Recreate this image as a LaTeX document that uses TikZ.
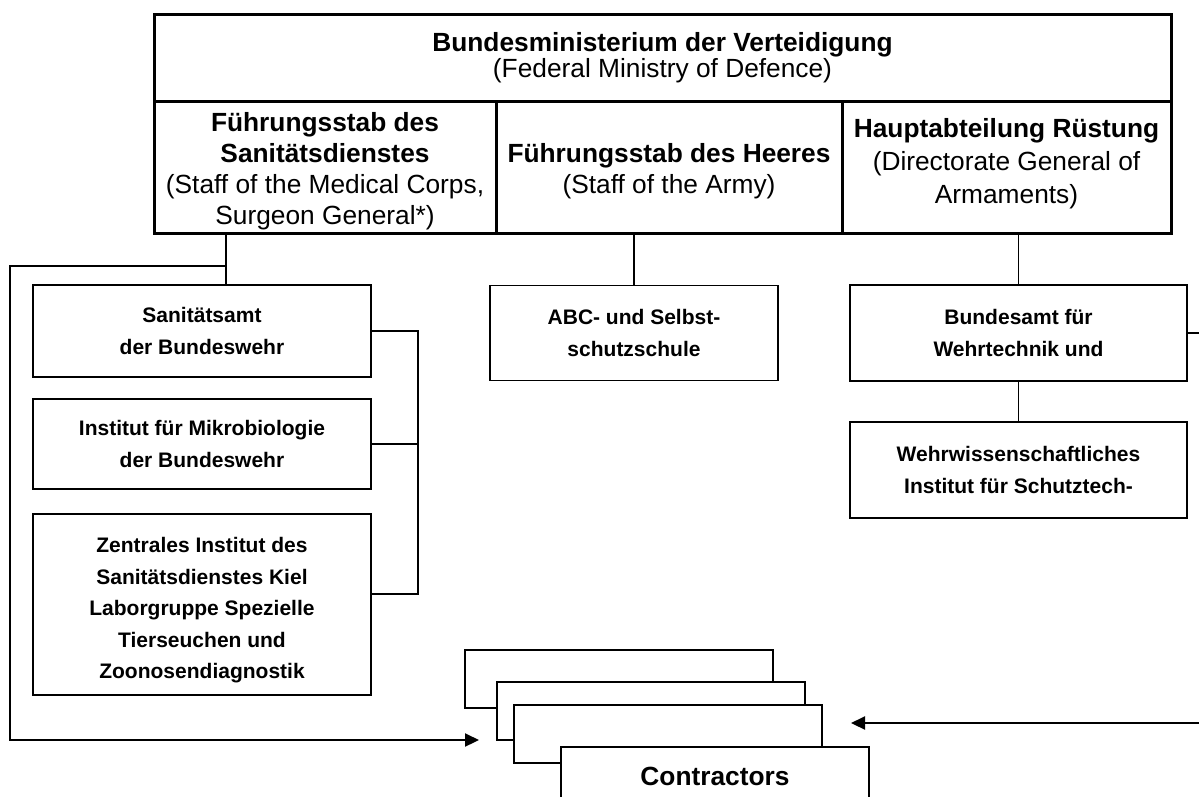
\documentclass[tikz,border=0pt]{standalone}
\usepackage{fontspec}
\setmainfont{Liberation Sans}
\usepackage{tikz}
\usetikzlibrary{arrows.meta, positioning}

\tikzset{
  head/.style={draw, line width=3pt, inner sep=0pt, align=center,
    font=\fontsize{26.3}{31}\selectfont},
  headtxt/.style={inner sep=0pt, align=center,
    font=\fontsize{26.3}{31}\selectfont},
  unit/.style={draw, line width=1.6pt, inner sep=0pt, align=center,
    font=\fontsize{21}{31.5}\selectfont\bfseries},
  ctr/.style={draw, fill=white, line width=1.5pt, inner sep=0pt,
    minimum width=308pt, minimum height=58pt,
    font=\fontsize{26.3}{31}\selectfont\bfseries},
  link/.style={line width=1.8pt},
  feed/.style={line width=2.2pt, -{Triangle[length=14pt,width=13pt]}},
}

\begin{document}
\begin{tikzpicture}[x=1pt,y=-1pt]
  \useasboundingbox (0,0) rectangle (1199,796);

  % ministry and its staffs
  \node[head, minimum width=1017pt, minimum height=87pt,
    font=\fontsize{26.3}{26}\selectfont] (bmvg) at (662.5,57.5)
    {\textbf{Bundesministerium der Verteidigung}\\(Federal Ministry of Defence)};
  \node[head, minimum width=342pt, minimum height=132pt] (fsan) at (325,167) {};
  \node[head, minimum width=346pt, minimum height=132pt] (fheer) at (669,167) {};
  \node[head, minimum width=329pt, minimum height=132pt] (hrue) at (1006.5,167) {};
  \node[headtxt] (fsan-t) at (325,171)
    {\textbf{Führungsstab des}\\\textbf{Sanitätsdienstes}\\(Staff of the Medical Corps,\\Surgeon General*)};
  \node[headtxt] (fheer-t) at (669,171)
    {\textbf{Führungsstab des Heeres}\\(Staff of the Army)};
  \node[headtxt, font=\fontsize{26.3}{33}\selectfont] (hrue-t) at (1006.5,164)
    {\textbf{Hauptabteilung Rüstung}\\(Directorate General of\\Armaments)};

  % units
  \node[unit, minimum width=338pt, minimum height=92pt] (sanamt) at (202,331)
    {Sanitätsamt\\der Bundeswehr};
  \node[unit, minimum width=338pt, minimum height=90pt] (mikro) at (202,444)
    {Institut für Mikrobiologie\\der Bundeswehr};
  \node[unit, minimum width=338pt, minimum height=181pt] (zinst) at (202,604.5) {};
  \node[unit, draw=none] (zinst-t) at (202,610.5)
    {Zentrales Institut des\\Sanitätsdienstes Kiel\\Laborgruppe Spezielle\\Tierseuchen und\\Zoonosendiagnostik};
  \node[unit, minimum width=288pt, minimum height=95pt] (abc) at (634,333)
    {ABC- und Selbst-\\schutzschule};
  \node[unit, minimum width=337pt, minimum height=96pt] (bwb) at (1018.5,333)
    {Bundesamt für\\Wehrtechnik und};
  \node[unit, minimum width=337pt, minimum height=96pt] (wis) at (1018.5,470)
    {Wehrwissenschaftliches\\Institut für Schutztech-};

  % contractors stack
  \foreach \i/\cx/\cy in {1/619/679, 2/651/711, 3/668/734}
    \node[ctr] (c\i) at (\cx,\cy) {};
  \node[ctr] (c4) at (715,776) {Contractors};

  \coordinate (jl) at (226,266);
  \coordinate (lc) at (10,740);
  \coordinate (ain) at (479,740);
  \coordinate (zk) at (418,594);
  \coordinate (rin) at (1199,723);
  \coordinate (aout) at (851,723);

  \draw[link] (fsan.south -| jl) -- (sanamt.north -| jl);
  \draw[feed] (jl) -| (lc) -- (ain);
  \draw[link] (sanamt.east) -| (zk) -- (zk -| zinst.east);
  \draw[link] (mikro.east) -- (mikro.east -| zk);
  \draw[link] (abc.north) -- (abc.north |- fheer.south);
  \draw[link] (bwb.north) -- (bwb.north |- hrue.south);
  \draw[link] (bwb.south) -- (wis.north);
  \draw[link] (bwb.east) -- (bwb.east -| rin);
  \draw[feed] (rin) -- (aout);
\end{tikzpicture}
\end{document}
